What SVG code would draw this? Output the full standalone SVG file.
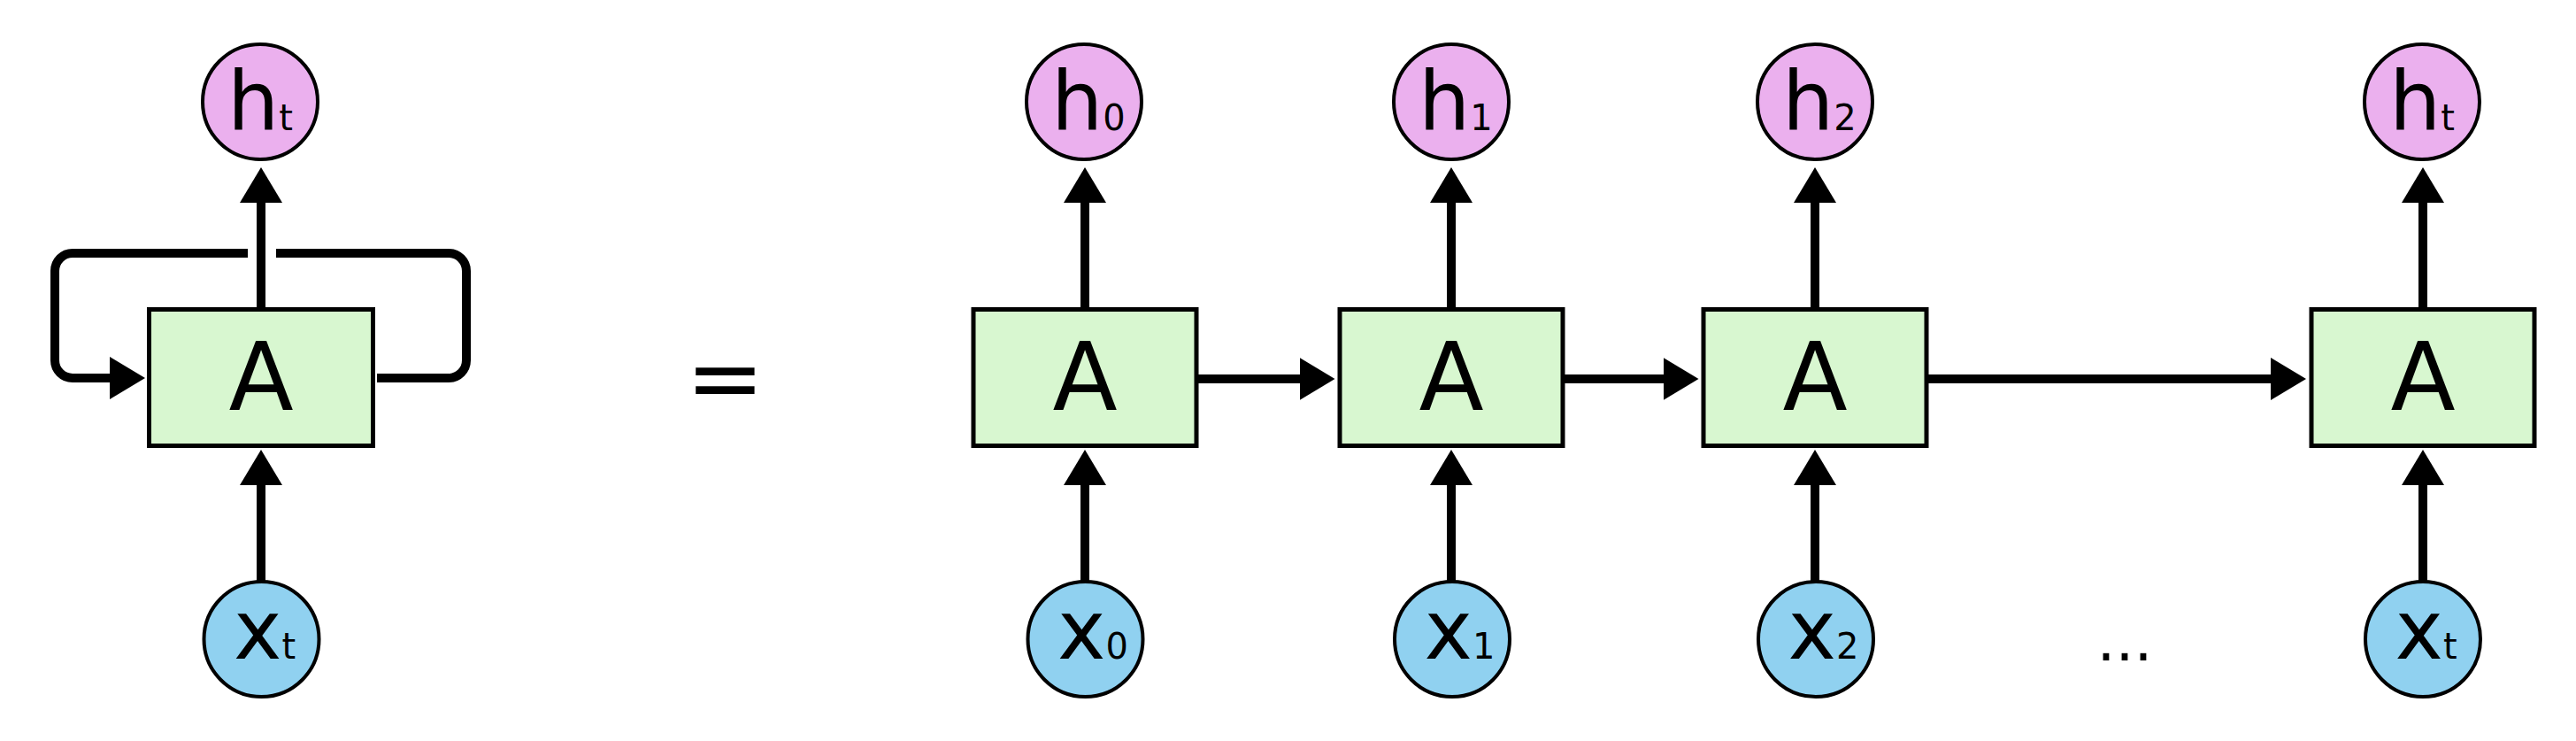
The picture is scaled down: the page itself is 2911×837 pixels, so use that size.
<svg xmlns="http://www.w3.org/2000/svg" width="2911" height="837" viewBox="0 0 2911 837">
  <style>
    .h { fill: #ebb0ee; stroke: #000; stroke-width: 4; }
    .x { fill: #90d1f0; stroke: #000; stroke-width: 4; }
    .box { fill: #d8f7d0; stroke: #000; stroke-width: 5; }
    .lbl { font-family: "DejaVu Sans", "Liberation Sans", sans-serif; fill: #000; }
    .big { font-size: 92px; }
    .sub { font-size: 40px; }
    .a { font-size: 107px; text-anchor: middle; }
    .edge { fill: none; stroke: #000; stroke-width: 10; }
  </style>
  <defs>
    <marker id="arr" viewBox="0 0 40 48" refX="1" refY="24" markerWidth="40" markerHeight="48" markerUnits="userSpaceOnUse" orient="auto">
      <path d="M0,0 L40,24 L0,48 z" fill="#000"/>
    </marker>
  </defs>
  <rect width="2911" height="837" fill="#fff"/>

  <g id="connectors">
    <!-- left rolled diagram -->
    <path class="edge" d="M295,657 V547" marker-end="url(#arr)"/>
    <path class="edge" d="M295,347 V228" marker-end="url(#arr)"/>
    <path class="edge" d="M280,286 H82 A20,20 0 0 0 62,306 V407 A20,20 0 0 0 82,427 H125" marker-end="url(#arr)"/>
    <path class="edge" d="M426,427 H507 A20,20 0 0 0 527,407 V306 A20,20 0 0 0 507,286 H312"/>
    <!-- unrolled chain -->
    <path class="edge" d="M1226,657 V547" marker-end="url(#arr)"/>
    <path class="edge" d="M1226,347 V228" marker-end="url(#arr)"/>
    <path class="edge" d="M1640,657 V547" marker-end="url(#arr)"/>
    <path class="edge" d="M1640,347 V228" marker-end="url(#arr)"/>
    <path class="edge" d="M2051,657 V547" marker-end="url(#arr)"/>
    <path class="edge" d="M2051,347 V228" marker-end="url(#arr)"/>
    <path class="edge" d="M2738,657 V547" marker-end="url(#arr)"/>
    <path class="edge" d="M2738,347 V228" marker-end="url(#arr)"/>
    <path class="edge" d="M1354,428 H1469.5" marker-end="url(#arr)"/>
    <path class="edge" d="M1768,428 H1880.5" marker-end="url(#arr)"/>
    <path class="edge" d="M2179,428 H2567" marker-end="url(#arr)"/>
  </g>

  <!-- rolled network -->
  <g id="A_rolled">
    <rect class="box" x="168.5" y="349.5" width="253" height="154"/>
    <text class="lbl a" x="295" y="463">A</text>
  </g>
  <g id="h_t_rolled">
    <circle class="h" cx="294" cy="115" r="65"/>
    <text class="lbl" x="257" y="147"><tspan class="big">h</tspan><tspan class="sub">t</tspan></text>
  </g>
  <g id="x_t_rolled">
    <circle class="x" cx="295.5" cy="722" r="65"/>
    <text class="lbl" x="264" y="744"><tspan class="big">x</tspan><tspan class="sub">t</tspan></text>
  </g>

  <g id="equals">
    <text class="lbl" x="819.5" y="463" font-size="106" text-anchor="middle">=</text>
  </g>

  <!-- unrolled chain -->
  <g id="A_0">
    <rect class="box" x="1100" y="349.5" width="252" height="154"/>
    <text class="lbl a" x="1226" y="463">A</text>
  </g>
  <g id="h_0">
    <circle class="h" cx="1225" cy="115" r="65"/>
    <text class="lbl" x="1188" y="147"><tspan class="big">h</tspan><tspan class="sub">0</tspan></text>
  </g>
  <g id="x_0">
    <circle class="x" cx="1226.5" cy="722" r="65"/>
    <text class="lbl" x="1195" y="744"><tspan class="big">x</tspan><tspan class="sub">0</tspan></text>
  </g>

  <g id="A_1">
    <rect class="box" x="1514" y="349.5" width="252" height="154"/>
    <text class="lbl a" x="1640" y="463">A</text>
  </g>
  <g id="h_1">
    <circle class="h" cx="1640" cy="115" r="65"/>
    <text class="lbl" x="1603" y="147"><tspan class="big">h</tspan><tspan class="sub">1</tspan></text>
  </g>
  <g id="x_1">
    <circle class="x" cx="1641" cy="722" r="65"/>
    <text class="lbl" x="1609.5" y="744"><tspan class="big">x</tspan><tspan class="sub">1</tspan></text>
  </g>

  <g id="A_2">
    <rect class="box" x="1925" y="349.5" width="252" height="154"/>
    <text class="lbl a" x="2051" y="463">A</text>
  </g>
  <g id="h_2">
    <circle class="h" cx="2051" cy="115" r="65"/>
    <text class="lbl" x="2014" y="147"><tspan class="big">h</tspan><tspan class="sub">2</tspan></text>
  </g>
  <g id="x_2">
    <circle class="x" cx="2052" cy="722" r="65"/>
    <text class="lbl" x="2020.5" y="744"><tspan class="big">x</tspan><tspan class="sub">2</tspan></text>
  </g>

  <g id="ellipsis">
    <text class="lbl" x="2401" y="746" font-size="66" text-anchor="middle">...</text>
  </g>

  <g id="A_t">
    <rect class="box" x="2612" y="349.5" width="252" height="154"/>
    <text class="lbl a" x="2738" y="463">A</text>
  </g>
  <g id="h_t">
    <circle class="h" cx="2737" cy="115" r="65"/>
    <text class="lbl" x="2700" y="147"><tspan class="big">h</tspan><tspan class="sub">t</tspan></text>
  </g>
  <g id="x_t">
    <circle class="x" cx="2738" cy="722" r="65"/>
    <text class="lbl" x="2706.5" y="744"><tspan class="big">x</tspan><tspan class="sub">t</tspan></text>
  </g>
</svg>
